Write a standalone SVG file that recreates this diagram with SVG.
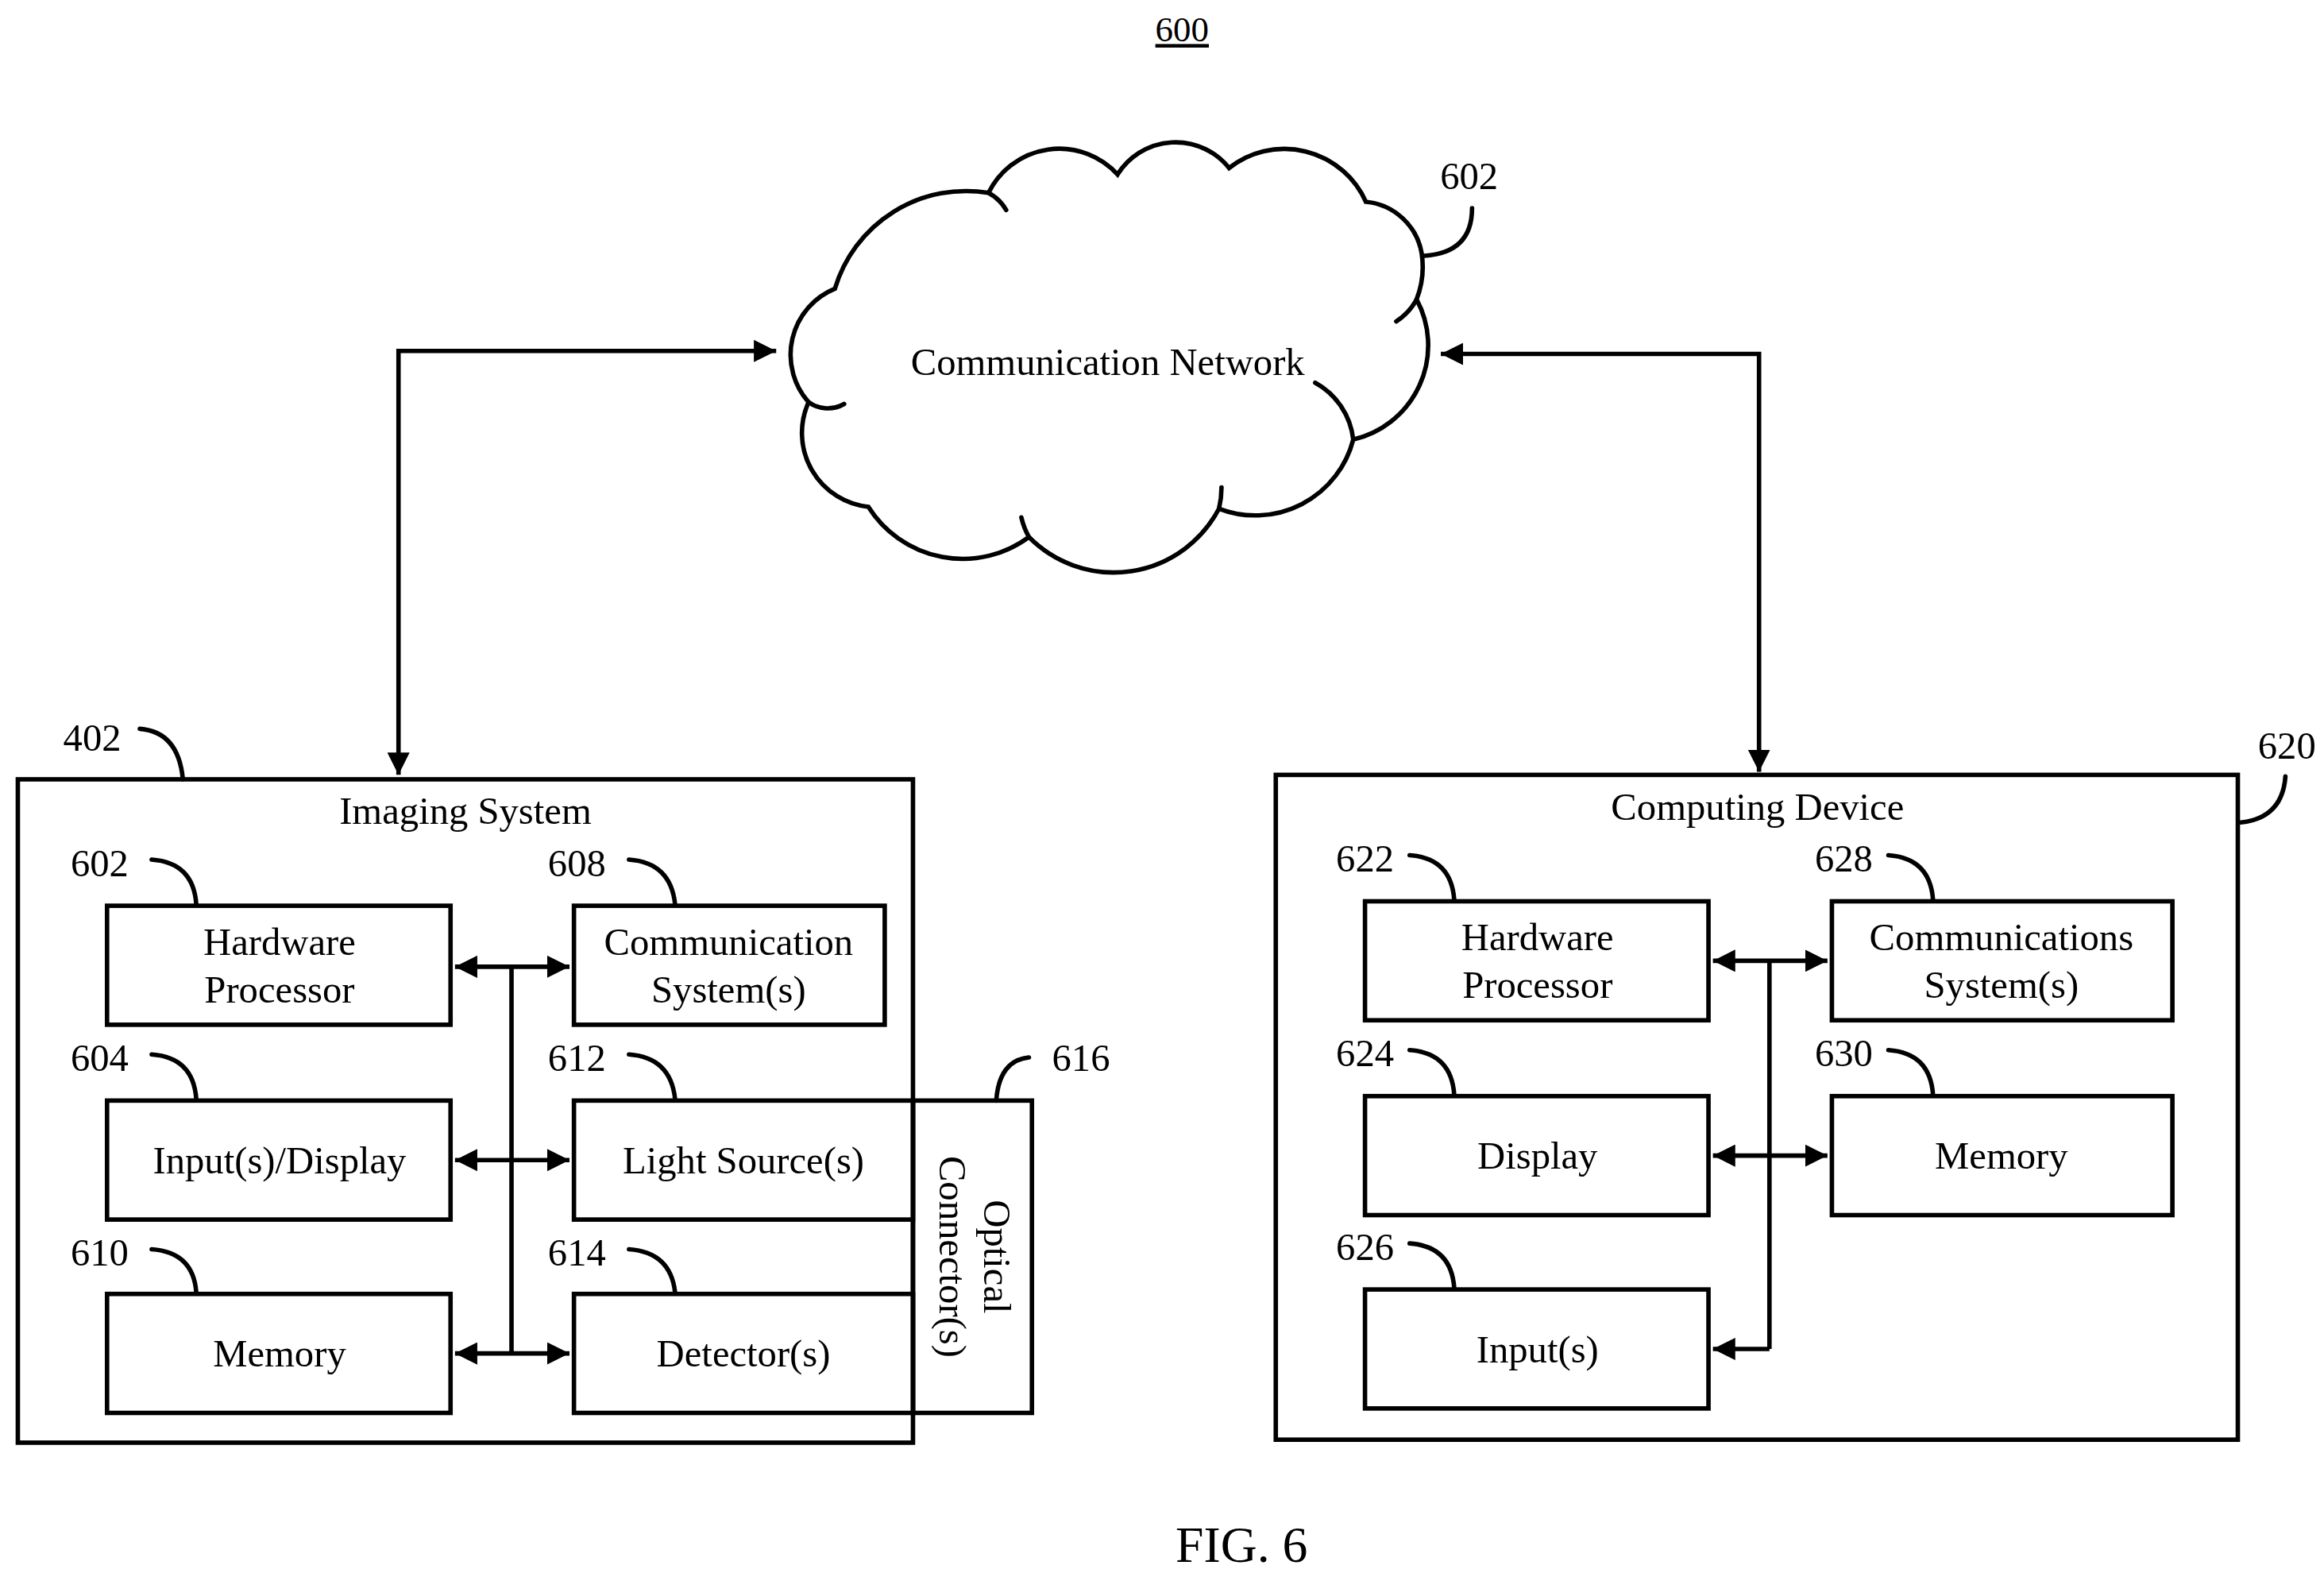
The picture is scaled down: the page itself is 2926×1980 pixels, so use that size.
<svg xmlns="http://www.w3.org/2000/svg" width="2926" height="1980" viewBox="0 0 2926 1980">
<defs>
<marker id="ah" viewBox="0 0 10 10" refX="10" refY="5" markerWidth="5" markerHeight="5" orient="auto-start-reverse" markerUnits="strokeWidth"><path d="M0,0 L10,5 L0,10 z" fill="#000"/></marker>
<style>
.b{fill:#fff;stroke:#000;stroke-width:3}
.l{fill:none;stroke:#000;stroke-width:3}
.c{fill:none;stroke:#000;stroke-width:3;stroke-linecap:round}
.a{fill:none;stroke:#000;stroke-width:3;marker-end:url(#ah)}
.d{fill:none;stroke:#000;stroke-width:3;marker-end:url(#ah);marker-start:url(#ah)}
text{font-family:"Liberation Serif","Times New Roman",serif;font-size:26px;fill:#000}
.m{text-anchor:middle}
</style>
</defs>
<rect width="2926" height="1980" fill="#fff"/>
<g transform="scale(1.8721)">
<text id="t600" x="795" y="28" class="m" text-decoration="underline" style="font-size:24px">600</text>
<g id="cloud">
<path class="c" d="M543.8,270.4 A48,48 0 0 1 561.5,194.1 A92,92 0 0 1 664.8,129.7 A53,53 0 0 1 751.6,117.3 A46,46 0 0 1 826.6,113.0 A60,60 0 0 1 918.6,135.7 A42,42 0 0 1 956.1,170.3 A60,60 0 0 1 952.7,201.3 A65,65 0 0 1 910.1,295.5 A68,68 0 0 1 819.8,342.0 A80,80 0 0 1 692.0,361.1 A75,75 0 0 1 584.0,340.8 A50,50 0 0 1 543.8,270.4 Z"/>
<path class="c" d="M664.8,129.7 A30,30 0 0 1 676.7,141.2 M952.7,201.3 A40,40 0 0 1 939.0,216.1 M910.1,295.5 A50,50 0 0 0 884.5,257.3 M819.8,342.0 A60,60 0 0 0 821.5,327.7 M692.0,361.1 A50,50 0 0 1 686.9,347.9 M543.8,270.4 A22,22 0 0 0 567.7,271.6"/>
<text x="745" y="252" class="m">Communication Network</text>
<text x="988" y="127" class="m">602</text>
<path class="c" d="M990,140 Q990,170 958,172"/>
</g>
<g id="imaging">
<rect class="b" x="12" y="524" width="602" height="446"/>
<text x="313" y="554" class="m">Imaging System</text>
<text x="62" y="505" class="m">402</text>
<path class="c" d="M94,490 Q120,492 123,524"/>
</g>
<g id="n602"><rect class="b" x="72" y="609" width="231" height="80"/><text x="188" y="642" class="m">Hardware</text><text x="188" y="674" class="m">Processor</text><text x="67" y="589" class="m">602</text><path class="c" d="M102,578 Q130,580 132,608"/></g>
<g id="n608"><rect class="b" x="386" y="609" width="209" height="80"/><text x="490" y="642" class="m">Communication</text><text x="490" y="674" class="m">System(s)</text><text x="388" y="589" class="m">608</text><path class="c" d="M423,578 Q451,580 454,608"/></g>
<g id="n604"><rect class="b" x="72" y="740" width="231" height="80"/><text x="188" y="789" class="m">Input(s)/Display</text><text x="67" y="720" class="m">604</text><path class="c" d="M102,709 Q130,711 132,739"/></g>
<g id="n612"><rect class="b" x="386" y="740" width="228" height="80"/><text x="500" y="789" class="m">Light Source(s)</text><text x="388" y="720" class="m">612</text><path class="c" d="M423,709 Q451,711 454,739"/></g>
<g id="n610"><rect class="b" x="72" y="870" width="231" height="80"/><text x="188" y="919" class="m">Memory</text><text x="67" y="851" class="m">610</text><path class="c" d="M102,840 Q130,842 132,869"/></g>
<g id="n614"><rect class="b" x="386" y="870" width="228" height="80"/><text x="500" y="919" class="m">Detector(s)</text><text x="388" y="851" class="m">614</text><path class="c" d="M423,840 Q451,842 454,869"/></g>
<g id="n616"><rect class="l" x="614" y="740" width="80" height="210"/><text transform="translate(654,845) rotate(90)" class="m"><tspan x="0" y="-8">Optical</tspan><tspan x="0" y="22">Connector(s)</tspan></text><text x="727" y="720" class="m">616</text><path class="c" d="M692,711 Q672,713 670,740"/></g>
<g id="computing">
<rect class="b" x="858" y="521" width="647" height="447"/>
<text x="1182" y="551" class="m">Computing Device</text>
<text x="1538" y="510" class="m">620</text>
<path class="c" d="M1537,522 Q1535,550 1507,553"/>
</g>
<g id="n622"><rect class="b" x="918" y="606" width="231" height="80"/><text x="1034" y="639" class="m">Hardware</text><text x="1034" y="671" class="m">Processor</text><text x="918" y="586" class="m">622</text><path class="c" d="M948,575 Q976,577 978,605"/></g>
<g id="n628"><rect class="b" x="1232" y="606" width="229" height="80"/><text x="1346" y="639" class="m">Communications</text><text x="1346" y="671" class="m">System(s)</text><text x="1240" y="586" class="m">628</text><path class="c" d="M1270,575 Q1298,577 1300,605"/></g>
<g id="n624"><rect class="b" x="918" y="737" width="231" height="80"/><text x="1034" y="786" class="m">Display</text><text x="918" y="717" class="m">624</text><path class="c" d="M948,706 Q976,708 978,736"/></g>
<g id="n630"><rect class="b" x="1232" y="737" width="229" height="80"/><text x="1346" y="786" class="m">Memory</text><text x="1240" y="717" class="m">630</text><path class="c" d="M1270,706 Q1298,708 1300,736"/></g>
<g id="n626"><rect class="b" x="918" y="867" width="231" height="80"/><text x="1034" y="916" class="m">Input(s)</text><text x="918" y="847" class="m">626</text><path class="c" d="M948,836 Q976,838 978,866"/></g>
<g id="connectors">
<path class="d" d="M268,521 V236 H522"/>
<path class="d" d="M969,238 H1183 V519"/>
<path class="l" d="M344,650 V910"/>
<path class="d" d="M306,650 H383"/>
<path class="d" d="M306,780 H383"/>
<path class="d" d="M306,910 H383"/>
<path class="l" d="M1190,646 V907"/>
<path class="d" d="M1152,646 H1229"/>
<path class="d" d="M1152,777 H1229"/>
<path class="a" d="M1190,907 H1152"/>
</g>
<text id="fig" x="835" y="1050" class="m" style="font-size:34px">FIG. 6</text>
</g>
</svg>
